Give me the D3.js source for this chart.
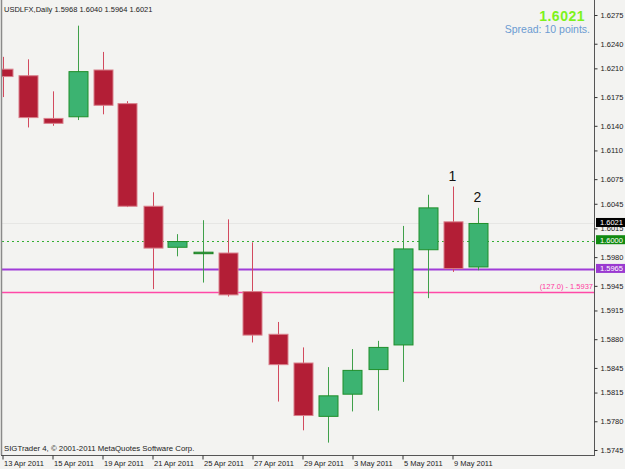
<!DOCTYPE html>
<html>
<head>
<meta charset="utf-8">
<script src="https://cdn.jsdelivr.net/npm/d3@7"></script>
<style>
    body { margin: 0; background: #f3f3f1; }
    svg { display: block; }
    text { font-family: "Liberation Sans", Arial, sans-serif; }
</style>
</head>
<body>
<script>
(function () {
    // Daily candles, USDLFX
    var dates = ['13 Apr 2011', '14 Apr 2011', '15 Apr 2011', '18 Apr 2011', '19 Apr 2011',
        '20 Apr 2011', '21 Apr 2011', '22 Apr 2011', '25 Apr 2011', '26 Apr 2011',
        '27 Apr 2011', '28 Apr 2011', '29 Apr 2011', '2 May 2011', '3 May 2011',
        '4 May 2011', '5 May 2011', '6 May 2011', '9 May 2011', '10 May 2011'];
    var opens  = [1.6209, 1.6201, 1.6149, 1.6151, 1.6208, 1.6167, 1.6042, 1.5992, 1.5985, 1.5985,
        1.5938, 1.5886, 1.5851, 1.5786, 1.5813, 1.5843, 1.5873, 1.5989, 1.6023, 1.5968];
    var highs  = [1.6224, 1.6221, 1.6182, 1.6262, 1.6230, 1.6170, 1.6059, 1.6008, 1.6025, 1.6026,
        1.5998, 1.5901, 1.5870, 1.5846, 1.5868, 1.5878, 1.6018, 1.6056, 1.6066, 1.6040];
    var lows   = [1.6175, 1.6138, 1.6140, 1.6147, 1.6154, 1.6041, 1.5941, 1.5981, 1.5949, 1.5932,
        1.5876, 1.5804, 1.5769, 1.5754, 1.5792, 1.5793, 1.5828, 1.5930, 1.5962, 1.5964];
    var closes = [1.6200, 1.6150, 1.6143, 1.6206, 1.6165, 1.6042, 1.5991, 1.5999, 1.5986, 1.5934,
        1.5885, 1.5849, 1.5787, 1.5811, 1.5842, 1.5870, 1.5990, 1.6040, 1.5966, 1.6021];

    var dateTicks = [0, 2, 4, 6, 8, 10, 12, 14, 16, 18]; // labelled bars
    var priceTicks = [1.6275, 1.6240, 1.6210, 1.6175, 1.6140, 1.6110, 1.6075, 1.6045, 1.6015,
        1.5980, 1.5945, 1.5915, 1.5880, 1.5845, 1.5815, 1.5780, 1.5745];

    var levels = [1.6000, 1.5965, 1.5937]; // dotted green, purple, pink
    var bid = 1.6021;
    var marks = [{ bar: 18, text: '1' }, { bar: 19, text: '2' }];

    var width = 625, height = 469,
        plotLeft = 2, plotRight = 594, plotTop = 2, plotBottom = 455;

    var x = d3.scaleLinear().domain([0, 19]).range([2.5, 477.5]);
    var y = d3.scaleLinear().domain([1.5745, 1.6275]).range([450, 15]);
    var bodyW = 19;

    var svg = d3.select('body').append('svg')
        .attr('width', width)
        .attr('height', height);

    svg.append('clipPath').attr('id', 'plot')
        .append('rect')
        .attr('x', plotLeft).attr('y', plotTop)
        .attr('width', plotRight - plotLeft).attr('height', plotBottom - plotTop);

    var plot = svg.append('g').attr('clip-path', 'url(#plot)');

    // faint bid line
    plot.append('line')
        .attr('x1', plotLeft).attr('x2', plotRight)
        .attr('y1', Math.round(y(bid)) + 0.5).attr('y2', Math.round(y(bid)) + 0.5)
        .attr('stroke', '#e6e6e4');

    // horizontal levels
    plot.append('line')
        .attr('x1', plotLeft).attr('x2', plotRight)
        .attr('y1', Math.round(y(levels[0])) + 0.5).attr('y2', Math.round(y(levels[0])) + 0.5)
        .attr('stroke', '#33b033').attr('stroke-dasharray', '2,3');
    plot.append('line')
        .attr('x1', plotLeft).attr('x2', plotRight)
        .attr('y1', y(levels[1])).attr('y2', y(levels[1]))
        .attr('stroke', '#a03cd8').attr('stroke-width', 2);
    plot.append('line')
        .attr('x1', plotLeft).attr('x2', plotRight)
        .attr('y1', Math.round(y(levels[2])) + 0.5).attr('y2', Math.round(y(levels[2])) + 0.5)
        .attr('stroke', '#ff48a8').attr('stroke-width', 1.3);

    plot.append('text')
        .attr('x', plotRight - 1).attr('y', y(levels[2]) - 3)
        .attr('text-anchor', 'end')
        .attr('font-size', '7.5px')
        .attr('fill', '#ff3aa0')
        .text('(127.0) - ' + levels[2].toFixed(4));

    // candles
    var idx = d3.range(dates.length);
    var candle = plot.selectAll('.candle')
        .data(idx)
        .enter()
        .append('g')
        .attr('class', 'candle');

    function up(i) { return closes[i] >= opens[i]; }

    candle.append('line')
        .attr('x1', function (i) { return Math.round(x(i)) + 0.5; })
        .attr('x2', function (i) { return Math.round(x(i)) + 0.5; })
        .attr('y1', function (i) { return y(highs[i]); })
        .attr('y2', function (i) { return y(lows[i]); })
        .attr('stroke', function (i) { return up(i) ? '#3fa04a' : '#d24a5e'; });

    candle.append('rect')
        .attr('x', function (i) { return Math.round(x(i)) + 0.5 - bodyW / 2; })
        .attr('y', function (i) { return y(Math.max(opens[i], closes[i])); })
        .attr('width', bodyW)
        .attr('height', function (i) {
            return Math.max(1.5, Math.abs(y(opens[i]) - y(closes[i])));
        })
        .attr('fill', function (i) { return up(i) ? '#3cb371' : '#b31e36'; })
        .attr('stroke', function (i) {
            if (Math.abs(opens[i] - closes[i]) < 0.0002) return '#1a7f1a';
            return up(i) ? '#1f8f2a' : '#d9808c';
        })
        .attr('stroke-width', 1);

    // numbered marks above the last two bars
    svg.selectAll('.mark')
        .data(marks)
        .enter()
        .append('text')
        .attr('class', 'mark')
        .attr('x', function (d) { return x(d.bar); })
        .attr('y', function (d) { return y(highs[d.bar]) - 6; })
        .attr('text-anchor', 'middle')
        .attr('font-size', '14px')
        .attr('fill', '#111')
        .text(function (d) { return d.text; });

    // frame
    svg.append('line')
        .attr('x1', plotLeft - 0.5).attr('x2', plotLeft - 0.5)
        .attr('y1', 0).attr('y2', plotBottom)
        .attr('stroke', '#8a8a8a').attr('stroke-width', 1.5);
    svg.append('line')
        .attr('x1', plotLeft - 1).attr('x2', plotRight)
        .attr('y1', plotBottom + 0.5).attr('y2', plotBottom + 0.5)
        .attr('stroke', '#555');
    svg.append('line')
        .attr('x1', plotRight + 0.5).attr('x2', plotRight + 0.5)
        .attr('y1', 0).attr('y2', plotBottom + 1)
        .attr('stroke', '#555');

    // price axis
    var yAxis = d3.axisRight(y)
        .tickValues(priceTicks)
        .tickFormat(d3.format('.4f'))
        .tickSizeInner(3)
        .tickSizeOuter(0)
        .tickPadding(3);

    var ya = svg.append('g')
        .attr('transform', 'translate(' + (plotRight + 0.5) + ',0)')
        .call(yAxis);
    ya.select('.domain').remove();
    ya.selectAll('line').attr('stroke', '#333');
    ya.selectAll('text')
        .attr('font-size', '7.5px')
        .attr('font-family', '"Liberation Sans", Arial, sans-serif')
        .attr('fill', '#222');

    // highlighted price labels on the axis
    var boxes = [
        { v: bid, fill: '#000000' },
        { v: levels[0], fill: '#118a11' },
        { v: levels[1], fill: '#9a3ad0' }
    ];
    var box = svg.selectAll('.pbox')
        .data(boxes)
        .enter()
        .append('g')
        .attr('class', 'pbox')
        .attr('transform', function (d) { return 'translate(' + (plotRight + 2) + ',' + y(d.v) + ')'; });
    box.append('rect')
        .attr('x', 0).attr('y', -5.5)
        .attr('width', 29).attr('height', 9)
        .attr('fill', function (d) { return d.fill; });
    box.append('text')
        .attr('x', 4).attr('y', 2)
        .attr('font-size', '7.5px')
        .attr('fill', '#fff')
        .text(function (d) { return d.v.toFixed(4); });

    // date axis
    var xAxis = d3.axisBottom(x)
        .tickValues(dateTicks)
        .tickFormat(function (i) { return dates[i]; })
        .tickSizeInner(4)
        .tickSizeOuter(0)
        .tickPadding(2);

    var xa = svg.append('g')
        .attr('transform', 'translate(0,' + (plotBottom + 0.5) + ')')
        .call(xAxis);
    xa.select('.domain').remove();
    xa.selectAll('line').attr('stroke', '#333');
    xa.selectAll('text')
        .attr('text-anchor', 'start')
        .attr('dx', 1)
        .attr('dy', '0.55em')
        .attr('font-size', '7.5px')
        .attr('font-family', '"Liberation Sans", Arial, sans-serif')
        .attr('fill', '#222');

    // header texts
    svg.append('text')
        .attr('x', 4).attr('y', 12)
        .attr('font-size', '7.5px')
        .attr('fill', '#222')
        .text('USDLFX,Daily  ' + [opens[19], highs[19], lows[19], closes[19]]
            .map(function (v) { return v.toFixed(4); }).join(' '));

    svg.append('text')
        .attr('x', 585).attr('y', 21)
        .attr('text-anchor', 'end')
        .attr('font-size', '14px')
        .attr('font-weight', 'bold')
        .attr('letter-spacing', '0.5px')
        .attr('fill', '#7df21c')
        .text(bid.toFixed(4));

    svg.append('text')
        .attr('x', 590).attr('y', 33)
        .attr('text-anchor', 'end')
        .attr('font-size', '10.5px')
        .attr('fill', '#6b9bd1')
        .text('Spread: 10 points.');

    svg.append('text')
        .attr('x', 4).attr('y', 451)
        .attr('font-size', '7.8px')
        .attr('fill', '#222')
        .text('SIGTrader 4, \u00a9 2001-2011 MetaQuotes Software Corp.');
})();
</script>
</body>
</html>
